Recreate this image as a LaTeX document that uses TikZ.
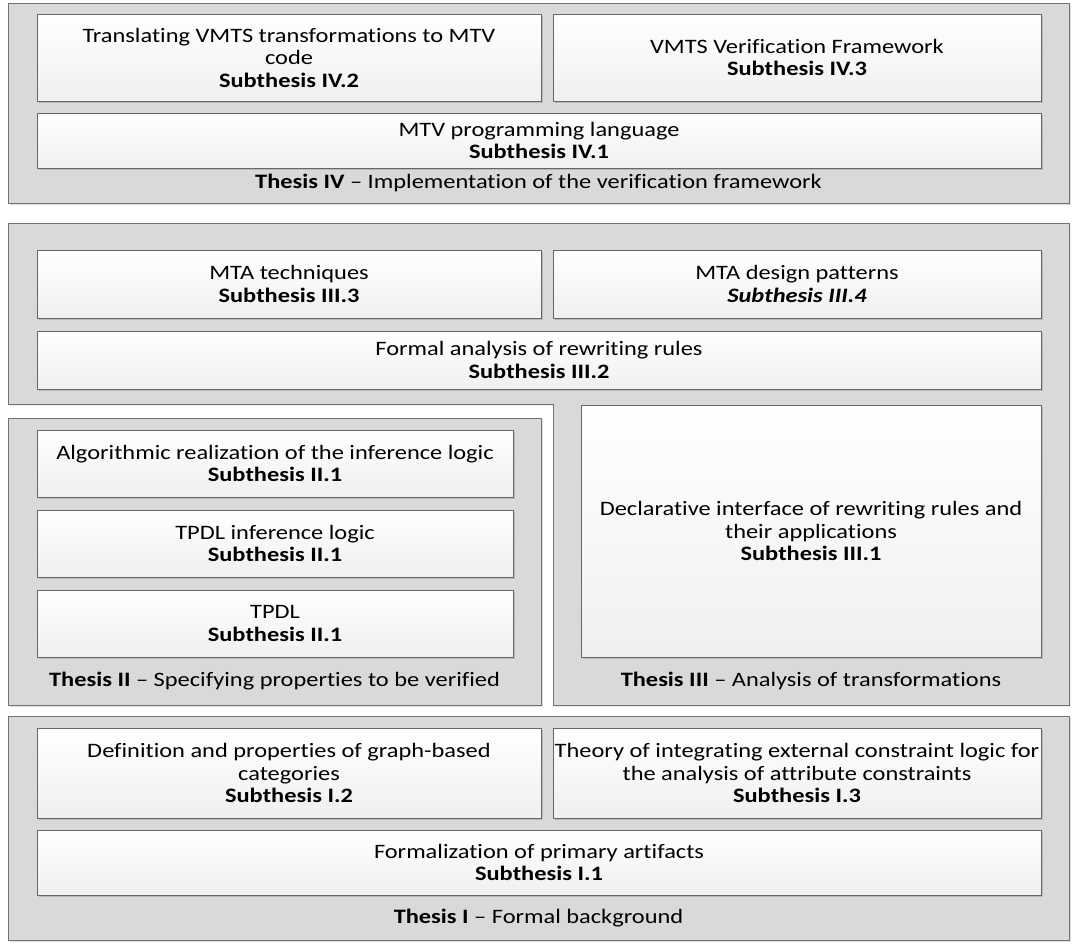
\documentclass[tikz,border=0pt]{standalone}
\usepackage{fontspec}
\setmainfont{Carlito}[FakeStretch=1.19, Ligatures={TeX,NoCommon}]
\usetikzlibrary{positioning, shadows}

\begin{document}
\begin{tikzpicture}[
  x=1pt, y=-1pt,
  font=\fontsize{20.5}{22.5}\selectfont,
  thesis/.style={draw=black!55, fill=black!15, drop shadow={opacity=0.25, shadow xshift=1.5pt, shadow yshift=-1.5pt}},
  sub/.style={draw=black!60, top color=white, bottom color=black!6, align=center, inner sep=0pt,
    drop shadow={opacity=0.35, shadow xshift=1.5pt, shadow yshift=-1.5pt}},
  lbl/.style={align=center, inner sep=1pt}
]
\useasboundingbox (0,0) rectangle (1078,943);

% --- Thesis IV ---
\node[thesis, minimum width=1061pt, minimum height=200pt] (t4) at (538.5,103) {};
\node[sub, minimum width=504pt, minimum height=87pt] (s42) at (289,57.5)
  {Translating VMTS transformations to MTV\\code\\\textbf{Subthesis IV.2}};
\node[sub, minimum width=488pt, minimum height=87pt] (s43) at (797,57.5)
  {VMTS Verification Framework\\\textbf{Subthesis IV.3}};
\node[sub, minimum width=1004pt, minimum height=55pt] (s41) at (539,140.5)
  {MTV programming language\\\textbf{Subthesis IV.1}};
\node[lbl] (t4lbl) at (538.5,183) {\textbf{Thesis IV} -- Implementation of the verification framework};

% --- Thesis III (band over the top, column on the right) ---
\draw[thesis] (8,223) -- (1069,223) -- (1069,705) -- (553,705) -- (553,404) -- (8,404) -- cycle;
\node[sub, minimum width=504pt, minimum height=68pt] (s33) at (289,284)
  {MTA techniques\\\textbf{Subthesis III.3}};
\node[sub, minimum width=488pt, minimum height=68pt] (s34) at (797,284)
  {MTA design patterns\\\textbf{\textit{Subthesis III.4}}};
\node[sub, minimum width=1004pt, minimum height=58pt] (s32) at (539,360)
  {Formal analysis of rewriting rules\\\textbf{Subthesis III.2}};
\node[sub, minimum width=460pt, minimum height=252pt] (s31) at (811,531)
  {Declarative interface of rewriting rules and\\their applications\\\textbf{Subthesis III.1}};
\node[lbl] (t3lbl) at (811,681) {\textbf{Thesis III} -- Analysis of transformations};

% --- Thesis II ---
\node[thesis, minimum width=533pt, minimum height=287pt] (t2) at (274.5,561.5) {};
\node[sub, minimum width=476pt, minimum height=67pt] (s2a) at (275,463.5)
  {Algorithmic realization of the inference logic\\\textbf{Subthesis II.1}};
\node[sub, minimum width=476pt, minimum height=67pt] (s2b) at (275,543.5)
  {TPDL inference logic\\\textbf{Subthesis II.1}};
\node[sub, minimum width=476pt, minimum height=67pt] (s2c) at (275,623.5)
  {TPDL\\\textbf{Subthesis II.1}};
\node[lbl] (t2lbl) at (274.5,681) {\textbf{Thesis II} -- Specifying properties to be verified};

% --- Thesis I ---
\node[thesis, minimum width=1061pt, minimum height=224pt] (t1) at (538.5,828) {};
\node[sub, minimum width=504pt, minimum height=90pt] (s12) at (289,773)
  {Definition and properties of graph-based\\categories\\\textbf{Subthesis I.2}};
\node[sub, minimum width=488pt, minimum height=90pt] (s13) at (797,773)
  {Theory of integrating external constraint logic for\\the analysis of attribute constraints\\\textbf{Subthesis I.3}};
\node[sub, minimum width=1004pt, minimum height=65pt] (s11) at (539,862.5)
  {Formalization of primary artifacts\\\textbf{Subthesis I.1}};
\node[lbl] (t1lbl) at (538.5,918) {\textbf{Thesis I} -- Formal background};
\end{tikzpicture}
\end{document}
